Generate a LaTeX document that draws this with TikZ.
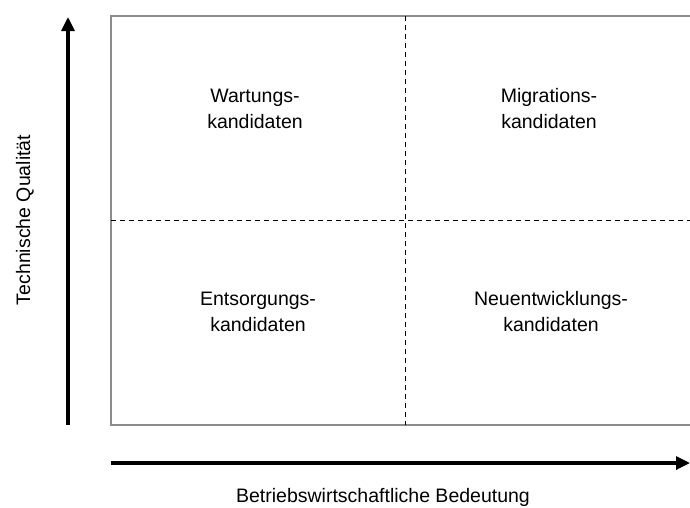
\documentclass[tikz,border=0pt]{standalone}
\usepackage{fontspec}
\setmainfont{Liberation Sans}
\usetikzlibrary{arrows.meta}
\begin{document}
\begin{tikzpicture}[x=1pt, y=-1pt,
  frame/.style = {draw=black!45, line width=1.4pt},
  divider/.style = {black, line width=1pt, dash pattern=on 5pt off 4pt},
  axis/.style = {line width=3.2pt, -{Triangle[length=14pt, width=13pt]}},
  quadrant/.style = {align=center, font=\fontsize{19.5}{26}\selectfont},
  axislabel/.style = {font=\fontsize{19.5}{22}\selectfont}]
\useasboundingbox (0,0) rectangle (690,507);
\coordinate (TL) at (111,16);
\coordinate (TR) at (690,16);
\coordinate (BL) at (111,425);
\coordinate (BR) at (690,425);
\coordinate (MT) at (405,16);
\coordinate (MB) at (405,425);
\coordinate (ML) at (111,220);
\coordinate (MR) at (690,220);
\draw[frame] (TR) -- (TL) -- (BL) -- (BR);
\draw[divider] (MT) -- (MB);
\draw[divider] (ML) -- (MR);
\node[quadrant] (wartung) at (255,109) {Wartungs-\\kandidaten};
\node[quadrant] (migration) at (549,109) {Migrations-\\kandidaten};
\node[quadrant] (entsorgung) at (258,312) {Entsorgungs-\\kandidaten};
\node[quadrant] (neu) at (551,312) {Neuentwicklungs-\\kandidaten};
\coordinate (ystart) at (68,425);
\coordinate (yend) at (68,17);
\coordinate (xstart) at (111,463);
\coordinate (xend) at (690,463);
\draw[axis] (ystart) -- (yend);
\draw[axis] (xstart) -- (xend);
\node[axislabel, rotate=90] (ylabel) at (25,220) {Technische Qualität};
\node[axislabel] (xlabel) at (383,497) {Betriebswirtschaftliche Bedeutung};
\end{tikzpicture}
\end{document}
